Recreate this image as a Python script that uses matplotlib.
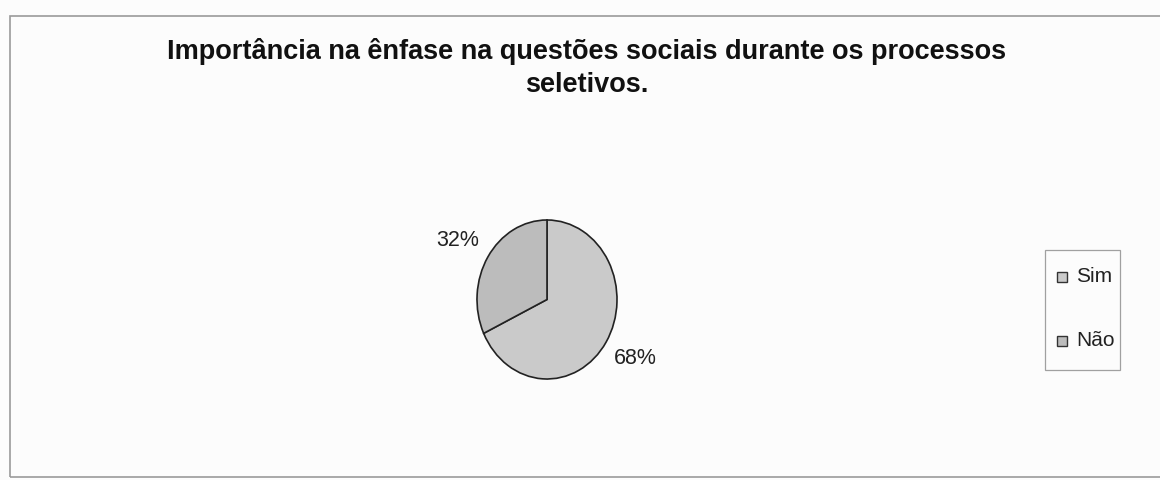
import matplotlib
matplotlib.use("Agg")
import matplotlib.pyplot as plt
from matplotlib.patches import Rectangle

plt.rcParams['font.family'] = ['Liberation Sans', 'DejaVu Sans']

categories = ["Sim", "Não"]
values = [68, 32]
colors = ["#cacaca", "#bcbcbc"]
title_lines = ["Importância na ênfase na questões sociais durante os processos", "seletivos."]

W, H = 1160, 480
fig = plt.figure(figsize=(W / 100, H / 100), dpi=100)
fig.patch.set_facecolor("#fcfcfc")

# frame
fig.patches.append(Rectangle((10 / W, 3 / H), 1.2, 461 / H, transform=fig.transFigure,
                             fill=False, edgecolor="#9a9a9a", linewidth=1.2))

for line, yb in zip(title_lines, [59, 92]):
    fig.text(587 / W, 1 - yb / H, line, ha="center", va="baseline", fontsize=19.5,
             fontweight="bold", color="#111111")

# pie axes (slightly elliptical)
cx, cy, rx, ry = 547, 299.5, 70, 79.5
ax = fig.add_axes([(cx - rx) / W, 1 - (cy + ry) / H, 2 * rx / W, 2 * ry / H])
wedges, _ = ax.pie(values, colors=colors, startangle=90, counterclock=False,
                   wedgeprops=dict(edgecolor="#222222", linewidth=1.2))
ax.set_aspect("auto")
ax.set_xlim(-1, 1)
ax.set_ylim(-1, 1)
ax.axis("off")

fig.text(458 / W, 1 - 241 / H, f"{values[1]}%", ha="center", va="center", fontsize=15.5, color="#222222")
fig.text(635 / W, 1 - 358 / H, f"{values[0]}%", ha="center", va="center", fontsize=15.5, color="#222222")

# legend
lx0, ly0, lx1, ly1 = 1045, 250, 1120, 370
fig.patches.append(Rectangle((lx0 / W, 1 - ly1 / H), (lx1 - lx0) / W, (ly1 - ly0) / H,
                             transform=fig.transFigure, fill=False, edgecolor="#a0a0a0", linewidth=0.9))
for name, col, y in zip(categories, colors, [277, 341]):
    fig.patches.append(Rectangle((1057 / W, 1 - (y + 5) / H), 10 / W, 10 / H, transform=fig.transFigure,
                                 facecolor=col, edgecolor="#333333", linewidth=1.0))
    fig.text(1076 / W, 1 - y / H, name, ha="left", va="center", fontsize=15, color="#222222")

fig.savefig("out.png", dpi=100, facecolor=fig.get_facecolor())
